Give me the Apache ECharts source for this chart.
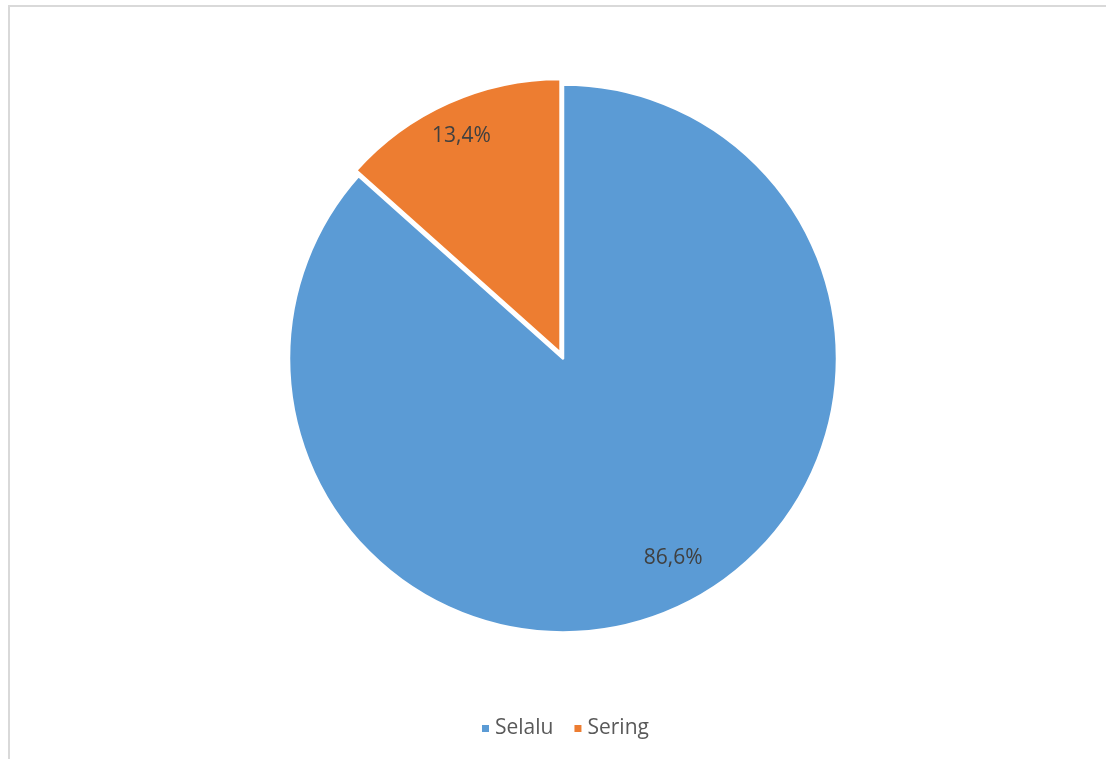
<!DOCTYPE html>
<html>
<head>
<meta charset="utf-8">
<script src="https://cdn.jsdelivr.net/npm/echarts@6/dist/echarts.min.js"></script>
<style>
html,body{margin:0;padding:0;background:#fff;}
#frame{position:absolute;left:8px;top:5px;width:1098px;height:754px;border-left:2px solid #d9d9d9;border-top:2px solid #d9d9d9;box-sizing:border-box;}
#chart{width:1106px;height:759px;}
</style>
</head>
<body>
<div id="frame"></div>
<div id="chart"></div>
<script>
const categories = ['Selalu', 'Sering'];
const values = [86.6, 13.4];
const labels = ['86,6%', '13,4%'];
const colors = ['#5B9BD5', '#ED7D31'];

const labelShift = [[53, 72], [-42, -89]];

const chart = echarts.init(document.getElementById('chart'));
chart.setOption({
  animation: false,
  color: colors,
  legend: {
    data: categories,
    bottom: 15,
    left: 475,
    icon: 'rect',
    itemWidth: 9,
    itemHeight: 9,
    itemGap: 19,
    textStyle: { fontFamily: 'Open Sans', fontSize: 21, color: '#595959' }
  },
  series: [{
    type: 'pie',
    center: [563, 358.5],
    radius: 274,
    startAngle: 90,
    clockwise: true,
    selectedMode: 'multiple',
    selectedOffset: 6,
    itemStyle: { borderColor: '#fff', borderWidth: 2.5 },
    label: {
      show: true,
      position: 'inside',
      fontFamily: 'Open Sans',
      fontSize: 21,
      color: '#404040'
    },
    labelLayout: function (p) {
      return { dx: labelShift[p.dataIndex][0], dy: labelShift[p.dataIndex][1] };
    },
    labelLine: { show: false },
    emphasis: { disabled: true },
    data: categories.map((c, i) => ({
      name: c,
      value: values[i],
      selected: i === 1,
      label: { formatter: labels[i] }
    }))
  }]
});
</script>
</body>
</html>
